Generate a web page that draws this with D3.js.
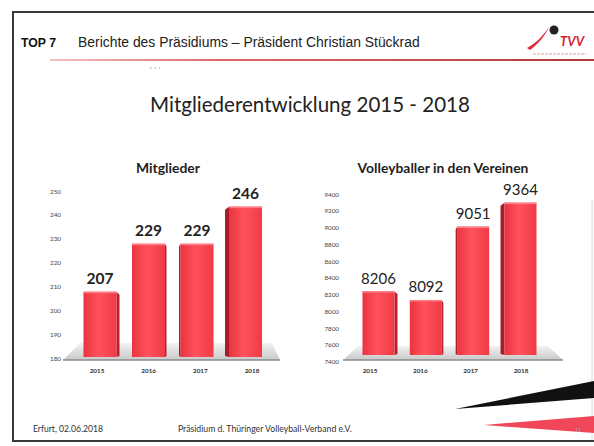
<!DOCTYPE html>
<html><head><meta charset="utf-8">
<script src="https://cdn.jsdelivr.net/npm/d3@7"></script>
<style>html,body{margin:0;padding:0;background:#fff;}svg{display:block;}</style>
</head><body>
<script>
// ---- data ----
const years = ["2015", "2016", "2017", "2018"];
const mitglieder = [207, 229, 229, 246];
const volleyballer = [8206, 8092, 9051, 9364];
const mitgliederTicks = [180, 190, 200, 210, 220, 230, 240, 250];
const volleyTicks = [7400, 7600, 7800, 8000, 8200, 8400, 8600, 8800, 9000, 9200, 9400];
const mainTitle = "Mitgliederentwicklung 2015 - 2018";
const chartTitles = ["Mitglieder", "Volleyballer in den Vereinen"];
const headerTop = "TOP 7";
const headerText = "Berichte des Präsidiums – Präsident Christian Stückrad";
const footerLeft = "Erfurt, 02.06.2018";
const footerMid = "Präsidium d. Thüringer Volleyball-Verband e.V.";

const W = 594, H = 446;
const svg = d3.select("body").append("svg").attr("width", W).attr("height", H);
const defs = svg.append("defs");
const F = "Lato, 'Open Sans', sans-serif";

function fit(sel, w) {
  const len = sel.node().getComputedTextLength();
  const fs = parseFloat(sel.attr("font-size"));
  sel.attr("font-size", fs * w / len);
  return sel;
}

// gradients
const g1 = defs.append("linearGradient").attr("id", "barFront").attr("x1", 0).attr("x2", 1).attr("y1", 0).attr("y2", 0);
g1.append("stop").attr("offset", 0).attr("stop-color", "#ea3340");
g1.append("stop").attr("offset", 0.45).attr("stop-color", "#ff525d");
g1.append("stop").attr("offset", 1).attr("stop-color", "#f03a47");
const g2 = defs.append("linearGradient").attr("id", "floorG").attr("x1", 0).attr("x2", 0).attr("y1", 0).attr("y2", 1);
g2.append("stop").attr("offset", 0).attr("stop-color", "#f2f2f2");
g2.append("stop").attr("offset", 1).attr("stop-color", "#c9c9c9");
const g3 = defs.append("linearGradient").attr("id", "hdrLine").attr("x1", 0).attr("x2", 1).attr("y1", 0).attr("y2", 0);
g3.append("stop").attr("offset", 0).attr("stop-color", "#f3c0c0");
g3.append("stop").attr("offset", 0.3).attr("stop-color", "#e06a6a");
g3.append("stop").attr("offset", 1).attr("stop-color", "#b03a3a");

// ---- slide frame ----
svg.append("line").attr("x1", 13).attr("x2", 13).attr("y1", 11).attr("y2", 442).attr("stroke", "#3a3a3a").attr("stroke-width", 2);
svg.append("line").attr("x1", 12).attr("x2", W).attr("y1", 12).attr("y2", 12).attr("stroke", "#3a3a3a").attr("stroke-width", 2);
svg.append("line").attr("x1", 12).attr("x2", W).attr("y1", 441).attr("y2", 441).attr("stroke", "#3a3a3a").attr("stroke-width", 2);
svg.append("line").attr("x1", 592).attr("x2", 592).attr("y1", 200).attr("y2", 440).attr("stroke", "#d8d8d8").attr("stroke-width", 1);

// header
fit(svg.append("text").attr("x", 21).attr("y", 47).attr("font-family", "'Liberation Sans', Arial, sans-serif")
  .attr("font-weight", "bold").attr("font-size", 12).attr("fill", "#111").text(headerTop), 35);
fit(svg.append("text").attr("x", 78).attr("y", 47).attr("font-family", "'Liberation Sans', Arial, sans-serif")
  .attr("font-size", 12).attr("fill", "#222").text(headerText), 342);
svg.append("rect").attr("x", 50).attr("y", 59).attr("width", W - 50).attr("height", 2).attr("fill", "url(#hdrLine)");
svg.append("line").attr("x1", 150).attr("x2", 160).attr("y1", 68).attr("y2", 68).attr("stroke", "#999").attr("stroke-dasharray", "1.5,3");

// logo
const logo = svg.append("g");
logo.append("path").attr("d", "M527,48 C535,44 543,36 549,27 C545,36 538,44 530,50 Z").attr("fill", "#e3283a");
logo.append("circle").attr("cx", 554).attr("cy", 30).attr("r", 4.5).attr("fill", "#222");
logo.append("text").attr("x", 560).attr("y", 46).attr("font-family", F).attr("font-style", "italic").attr("font-weight", "bold")
  .attr("font-size", 13).attr("fill", "#d8202e").text("TVV");
logo.append("line").attr("x1", 533).attr("x2", 586).attr("y1", 54).attr("y2", 54).attr("stroke", "#e89aa0").attr("stroke-width", 1).attr("stroke-dasharray", "3,1");

// main title
fit(svg.append("text").attr("x", 310).attr("y", 112).attr("text-anchor", "middle").attr("font-family", F)
  .attr("font-size", 20).attr("fill", "#222").text(mainTitle), 320);

// ---- charts ----
function drawChart(cfg) {
  const g = svg.append("g");
  fit(g.append("text").attr("x", cfg.titleX).attr("y", 173).attr("text-anchor", "middle").attr("font-family", F)
    .attr("font-weight", "bold").attr("font-size", 13).attr("fill", "#1e1e1e").text(cfg.title), cfg.titleW);

  // axis (back wall) scale
  const yAxis = d3.scaleLinear().domain(d3.extent(cfg.ticks)).range(cfg.axisRange);
  const ax = g.append("g").attr("transform", `translate(${cfg.axisX},0)`)
    .call(d3.axisLeft(yAxis).tickValues(cfg.ticks).tickSize(0).tickPadding(0).tickFormat(d3.format("d")));
  ax.select(".domain").remove();
  ax.selectAll("text").attr("font-family", F).attr("font-size", 6.3).attr("fill", "#444").attr("dy", "0.32em");

  // floor
  const fl = cfg.floor;
  g.append("path").attr("d", `M${fl.bx0},${fl.by} L${fl.bx1},${fl.by} L${fl.fx1},${fl.fy} L${fl.fx0},${fl.fy} Z`).attr("fill", "url(#floorG)");
  g.append("line").attr("x1", fl.fx0).attr("x2", fl.fx1).attr("y1", fl.fy).attr("y2", fl.fy).attr("stroke", "#8e8e8e").attr("stroke-width", 1.6);

  // bars (front face scale)
  const yBar = d3.scaleLinear().domain(d3.extent(cfg.ticks)).range(cfg.barRange);
  const xBar = d3.scalePoint().domain(years).range(cfg.barX);
  const xLab = d3.scalePoint().domain(years).range(cfg.labX);
  const bw = cfg.bw;
  const sides = [3, 1.5, -1.5, -4];
  years.forEach((yr, i) => {
    const v = cfg.values[i];
    const cx = xBar(yr), x0 = cx - bw / 2, x1 = cx + bw / 2;
    const top = yBar(v), bot = cfg.barBottom;
    const s = sides[i];
    if (s > 0) {
      g.append("path").attr("d", `M${x1},${top} L${x1 + s},${top + 3} L${x1 + s},${bot - 1} L${x1},${bot} Z`).attr("fill", "#b8222e");
    } else {
      g.append("path").attr("d", `M${x0},${top} L${x0 + s},${top + 3} L${x0 + s},${bot - 1} L${x0},${bot} Z`).attr("fill", "#a81c28");
    }
    g.append("rect").attr("x", x0).attr("y", top).attr("width", bw).attr("height", bot - top).attr("fill", "url(#barFront)");
    g.append("rect").attr("x", x0).attr("y", top).attr("width", bw).attr("height", 1.5).attr("fill", "#ff7f87");
    fit(g.append("text").attr("x", cx).attr("y", top - 7.5).attr("text-anchor", "middle").attr("font-family", F)
      .attr("font-weight", cfg.valueWeight).attr("font-size", 16).attr("fill", "#222").text(v), cfg.valueW(String(v).length));
    g.append("text").attr("x", xLab(yr)).attr("y", 373).attr("text-anchor", "middle").attr("font-family", F)
      .attr("font-weight", "bold").attr("font-size", 6.3).attr("fill", "#333").text(yr);
  });
}

drawChart({
  title: chartTitles[0], titleX: 168, titleW: 64,
  ticks: mitgliederTicks, values: mitglieder,
  axisX: 61, axisRange: [358.5, 191],
  barRange: [350.6, 197.9], barBottom: 357,
  barX: [100, 245.5], labX: [97, 252], bw: 33,
  floor: { bx0: 80, bx1: 272, by: 343, fx0: 63, fx1: 280, fy: 360 },
  valueWeight: "bold", valueW: n => n * 9
});
drawChart({
  title: chartTitles[1], titleX: 443, titleW: 171,
  ticks: volleyTicks, values: volleyballer,
  axisX: 339, axisRange: [361.7, 194],
  barRange: [352.9, 199.9], barBottom: 355,
  barX: [378.5, 520.5], labX: [370, 521], bw: 32,
  floor: { bx0: 358, bx1: 548, by: 346, fx0: 343, fx1: 563, fy: 360 },
  valueWeight: "normal", valueW: n => n * 8.7
});

// bottom swooshes
svg.append("path").attr("d", "M455,409 L594,381 L594,398 Z").attr("fill", "#111");
svg.append("path").attr("d", "M484,425 L594,416 L594,433 Z").attr("fill", "#f04858");

// footer
fit(svg.append("text").attr("x", 33).attr("y", 432).attr("font-family", F).attr("font-size", 8).attr("fill", "#333").text(footerLeft), 70);
fit(svg.append("text").attr("x", 178).attr("y", 432).attr("font-family", F).attr("font-size", 8).attr("fill", "#333").text(footerMid), 174);
svg.append("text").attr("x", 575).attr("y", 432).attr("font-family", F).attr("font-size", 5).attr("fill", "#aaa").text("11");
</script>
</body></html>
